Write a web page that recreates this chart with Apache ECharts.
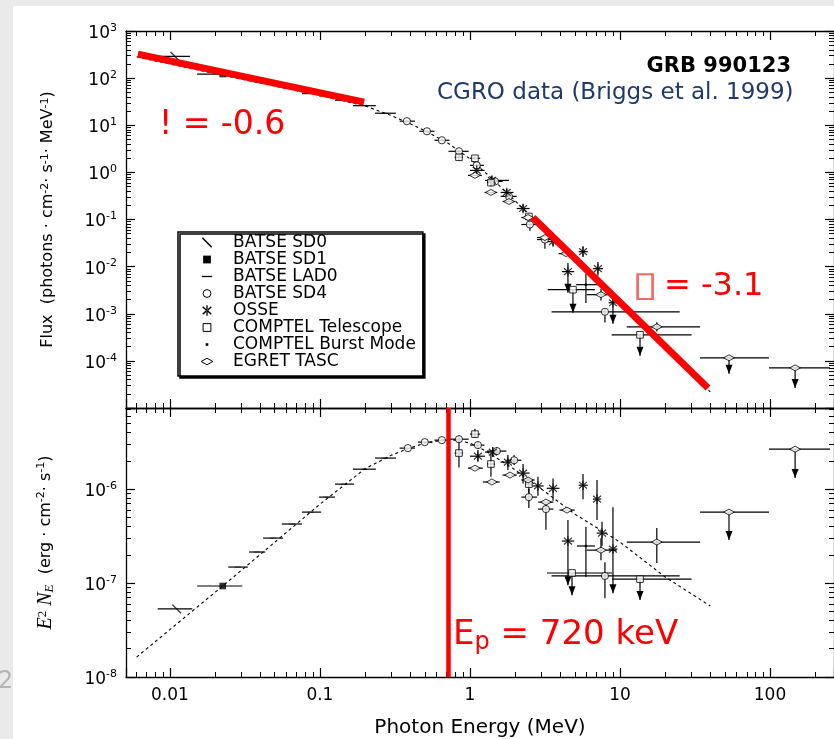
<!DOCTYPE html>
<html><head><meta charset="utf-8">
<script src="https://cdn.jsdelivr.net/npm/echarts@6/dist/echarts.min.js"></script>
<style>html,body{margin:0;padding:0;background:#fff}#c{width:834px;height:739px}</style>
</head><body><div id="c"></div>
<script>
// ---------------- data ----------------
// tuple: [E (MeV), value, Elow, Ehigh, valueLow, valueHigh, upperLimit]
const sd0Top = [[0.0108, 290, 0.0083, 0.0136]];
const sd1Top = [[0.0225, 122, 0.0152, 0.0302]];
const lad0Top = [[0.0284,114,0.0245,0.0331],[0.038,92,0.0337,0.0432],[0.0486,80,0.0418,0.0568],[0.065,63,0.0557,0.0759],[0.087,47,0.0759,0.1019],[0.111,42,0.0987,0.126],[0.145,34,0.126,0.169],[0.197,26,0.166,0.236],[0.271,18,0.233,0.321]];
const sd4Top = [[0.38,12.2,0.34,0.43,11.5,13],[0.517,7.45,0.46,0.58,7.0,7.9],[0.65,4.8,0.58,0.73,4.5,5.1],[0.845,2.8,0.72,0.98,2.6,3.0],[1.11,1.41,1.0,1.24,1.3,1.52],[1.47,0.644,1.3,1.65,0.58,0.71],[1.82,0.309,1.6,2.05,0.27,0.35],[2.51,0.0783,2.2,2.85,0.058,0.095],[3.16,0.0375,2.8,3.6,0.024,0.045],[7.94,0.0011,3.5,25,0.00065,0.0013]];
const osseTop = [[1.11,1.10,1.0,1.25,0.95,1.28],[1.40,0.676,1.26,1.82,0.55,0.85],[1.76,0.375,1.6,1.95,0.31,0.45],[2.26,0.171,2.05,2.5,0.14,0.21],[3.58,0.034,3.25,3.95,0.027,0.044],[5.67,0.0208,5.3,6.1,0.016,0.027],[4.50,0.00783,4.1,4.95,0.0028,0.012,1],[7.13,0.00906,6.6,7.7,0.0064,0.0125],[8.98,0.00171,8.4,9.6,0.00061,0.0024,1]];
const comptelTop = [[0.845,2.09,0.79,0.9,1.75,2.5],[1.08,1.99,1.0,1.17,1.8,2.2],[1.38,0.607,1.3,1.47,0.5,0.72],[2.47,0.116,2.35,2.6,0.1,0.13],[4.86,0.00324,3.3,6.8,0.00105,0.00324,1],[13.6,0.000357,8.8,30,0.000128,0.000357,1]];
const burstTop = [[5.93,0.00414,5.1,7.35,0.0017,0.0071]];
const egretTop = [[1.08,0.863,0.97,1.2],[1.38,0.375,1.25,1.52],[1.82,0.241,1.65,2.0],[2.44,0.110,2.2,2.7],[3.16,0.0414,2.8,3.55],[4.37,0.0189,3.9,4.9],[7.47,0.00254,6.0,9.5,0.0019,0.0034],[17.6,0.000528,11.1,34.2,0.00042,0.00066],[53.3,0.000116,34.2,98.4,5.3e-5,0.000116,1],[147,7.1e-5,98.4,251,2.67e-5,7.1e-5,1]];

const sd0Bot = [[0.0111,5.3e-8,0.0083,0.0141]];
const sd1Bot = [[0.0225,9.3e-8,0.0152,0.0304]];
const lad0Bot = [[0.0284,1.48e-7,0.0245,0.0331],[0.038,2.14e-7,0.0337,0.0432],[0.0486,3.01e-7,0.0418,0.0568],[0.065,4.25e-7,0.0557,0.0759],[0.087,5.69e-7,0.0759,0.1019],[0.111,8.22e-7,0.0987,0.126],[0.145,1.13e-6,0.126,0.169],[0.197,1.63e-6,0.166,0.236],[0.271,2.14e-6,0.233,0.321]];
const sd4Bot = [[0.386,2.73e-6,0.34,0.43],[0.5,3.16e-6,0.45,0.56],[0.65,3.32e-6,0.58,0.73],[0.845,3.40e-6,0.72,0.98,3.1e-6,3.7e-6],[1.13,2.94e-6,1.0,1.25,2.7e-6,3.2e-6],[1.51,2.54e-6,1.3,1.75,2.3e-6,2.8e-6],[1.97,2.03e-6,1.75,2.2,1.8e-6,2.3e-6],[2.47,8.22e-7,2.2,2.8,6.3e-7,1.0e-6],[3.21,6.13e-7,2.85,3.6,3.7e-7,7.1e-7],[7.94,1.19e-7,3.5,25,6.9e-8,1.67e-7]];
const osseBot = [[1.13,2.24e-6,1.0,1.26,1.95e-6,2.6e-6],[1.42,2.48e-6,1.26,1.6,2.2e-6,2.8e-6],[1.79,1.94e-6,1.6,2.0,1.6e-6,2.3e-6],[2.26,1.48e-6,2.05,2.5,1.15e-6,1.85e-6],[2.84,1.08e-6,2.6,3.1,8.5e-7,1.35e-6],[3.58,1.02e-6,3.25,3.95,7.5e-7,1.3e-6],[5.67,1.10e-6,5.3,6.1,7.8e-7,1.45e-6],[7.03,7.83e-7,6.6,7.5,4.7e-7,1.25e-6],[7.59,3.4e-7,7.0,8.2,2.5e-7,4.5e-7],[4.50,2.80e-7,4.1,4.95,9.5e-8,4.7e-7,1],[8.98,2.30e-7,8.4,9.6,7.8e-8,6.4e-7,1]];
const comptelBot = [[1.08,3.85e-6,1.0,1.17,3.5e-6,4.4e-6],[0.845,2.42e-6,0.79,0.9,1.7e-6,3.3e-6],[1.38,1.85e-6,1.3,1.47,1.35e-6,2.4e-6],[2.47,1.13e-6,2.35,2.6,9e-7,1.3e-6],[4.79,1.28e-7,3.26,8.85,7.4e-8,1.28e-7,1],[13.6,1.10e-7,8.85,30,6.6e-8,1.10e-7,1]];
const burstBot = [[5.93,2.48e-7,5.17,6.81,1.16e-7,3.94e-7]];
const egretBot = [[1.08,1.67e-6,0.97,1.22],[1.40,1.19e-6,1.22,1.58],[1.85,1.41e-6,1.65,2.05],[2.44,1.25e-6,2.2,2.7],[3.21,7.27e-7,2.85,3.6],[4.43,5.98e-7,3.95,5.0],[7.47,2.24e-7,6.0,9.5,1.75e-7,3.0e-7],[17.6,2.73e-7,11.1,34.2,1.63e-7,3.85e-7],[53.3,5.69e-7,34.2,98.4,2.87e-7,5.69e-7,1],[147,2.66e-6,98.4,251,1.31e-6,2.66e-6,1]];

// dashed model curve
const modelE   = [0.006, 0.0225, 0.1, 0.2, 0.3, 0.4, 0.5, 0.72, 1, 1.3, 2, 3, 5, 10, 20, 40];
const modelTop = [283, 115, 43, 25.7, 16, 10.7, 7.7, 4.1, 1.94, 0.923, 0.25, 0.069, 0.0135, 0.0017, 1.8e-4, 2.2e-5];
const modelBot = [1.63e-8, 9.3e-8, 6.9e-7, 1.65e-6, 2.3e-6, 2.75e-6, 3.08e-6, 3.4e-6, 3.1e-6, 2.5e-6, 1.6e-6, 1.0e-6, 5.42e-7, 2.73e-7, 1.16e-7, 5.7e-8];

// red annotation lines
const slopeLowE = [0.00612, 0.197];
const slopeLowF = [324, 30.9];
const slopeHighE = [2.63, 38.6];
const slopeHighF = [0.110, 2.67e-5];
const epPeak = 0.72;

// axes
const xRange = [0.0051, 267];
const topYRange = [1e-5, 1e3];
const botYRange = [1e-8, 7.3e-6];
const xTickExp = [-2, -1, 0, 1, 2];
const xTickText = ['0.01', '0.1', '1', '10', '100'];
const legendNames = ['BATSE SD0','BATSE SD1','BATSE LAD0','BATSE SD4','OSSE','COMPTEL Telescope','COMPTEL Burst Mode','EGRET TASC'];

// ---------------- chart ----------------
const FF = '"DejaVu Sans", sans-serif';
const SERIF = '"Liberation Serif", "DejaVu Serif", serif';
const SYM = {
  sd0: 'path://M0,0M10,10M1,1.8L1.8,1L9,8.2L8.2,9Z',
  sq: 'path://M0,0M10,10M2,2H8V8H2Z',
  dash: 'path://M0,0M10,10M1,4.5H9V5.5H1Z',
  circ: 'path://M0,0M10,10M8,5A3,3,0,1,1,2,5A3,3,0,1,1,8,5Z',
  star: 'path://M0,0M10,10M4.5,1H5.5V9H4.5Z M1.4,2.6L2,1.8L8.6,7.4L8,8.2Z M1.4,7.4L2,8.2L8.6,2.6L8,1.8Z',
  dot: 'path://M0,0M10,10M4,4H6V6H4Z',
  dia: 'path://M0,0M10,10M0.5,5L5,2.5L9.5,5L5,7.5Z'
};
const OPEN = {color:'#fff', borderColor:'#000', borderWidth:1};
const FILL = {color:'#000', borderWidth:0};
const instruments = [
  {name:legendNames[0], sym:SYM.sd0, size:12, style:FILL, top:sd0Top, bot:sd0Bot},
  {name:legendNames[1], sym:SYM.sq, size:11, style:FILL, top:sd1Top, bot:sd1Bot},
  {name:legendNames[2], sym:SYM.dash, size:8, style:FILL, top:lad0Top, bot:lad0Bot},
  {name:legendNames[3], sym:SYM.circ, size:12, style:OPEN, top:sd4Top, bot:sd4Bot},
  {name:legendNames[4], sym:SYM.star, size:12, style:FILL, top:osseTop, bot:osseBot},
  {name:legendNames[5], sym:SYM.sq, size:11, style:OPEN, top:comptelTop, bot:comptelBot},
  {name:legendNames[6], sym:SYM.dot, size:12, style:FILL, top:burstTop, bot:burstBot},
  {name:legendNames[7], sym:SYM.dia, size:12, style:OPEN, top:egretTop, bot:egretBot}
];
function full(d) {
  return [d[0], d[1], d[2], d[3], d[4] != null ? d[4] : d[1], d[5] != null ? d[5] : d[1], d[6] ? 1 : 0];
}
function errRender(params, api) {
  const x = api.value(0), y = api.value(1);
  const c = api.coord([x, y]);
  const l = api.coord([api.value(2), y]);
  const r = api.coord([api.value(3), y]);
  const lo = api.coord([x, api.value(4)]);
  const hi = api.coord([x, api.value(5)]);
  const st = {stroke:'#000', lineWidth:1.2};
  const ch = [
    {type:'line', shape:{x1:l[0], y1:c[1], x2:r[0], y2:c[1]}, style:st},
    {type:'line', shape:{x1:c[0], y1:hi[1], x2:c[0], y2:lo[1]}, style:st}
  ];
  if (api.value(6)) {
    ch.push({type:'polygon', shape:{points:[[c[0]-3.5, lo[1]-9], [c[0]+3.5, lo[1]-9], [c[0], lo[1]]]}, style:{fill:'#000'}});
  }
  return {type:'group', children:ch};
}
function expLabel(v) {
  const e = Math.log10(v), r = Math.round(e);
  if (Math.abs(e - r) > 0.02) return '';
  return '{b|10}{e|' + r + '}';
}
function xLabel(v) {
  const e = Math.log10(v), r = Math.round(e);
  if (Math.abs(e - r) > 0.02) return '';
  const i = xTickExp.indexOf(r);
  return i >= 0 ? xTickText[i] : '';
}
const AX_LINE = {show:true, onZero:false, lineStyle:{color:'#000', width:1.3}};
const TICK = {show:true, inside:true, length:9, lineStyle:{color:'#000', width:1.2}};
const MINOR = {show:true, splitNumber:9, length:5, lineStyle:{color:'#000', width:1}};
const LABEL_RICH = {
  b:{fontFamily:FF, fontSize:17, lineHeight:17, padding:[5,0,0,0], color:'#000'},
  e:{fontFamily:FF, fontSize:11, lineHeight:11, verticalAlign:'top', color:'#000'}
};
function xAxis(grid, pos, withLabel) {
  const a = {type:'log', logBase:10, gridIndex:grid, position:pos, min:xRange[0], max:xRange[1],
    axisLine:AX_LINE, axisTick:TICK, minorTick:MINOR, splitLine:{show:false},
    axisLabel:{show:withLabel, formatter:xLabel, fontFamily:FF, fontSize:17, color:'#000', margin:10}};
  if (withLabel) {
    Object.assign(a, {name:'Photon Energy (MeV)', nameLocation:'middle', nameGap:41, nameMoveOverlap:false,
      nameTextStyle:{fontFamily:FF, fontSize:20, color:'#000'}});
  }
  return a;
}
function yAxis(grid, pos, range, withLabel, name, nameRich, showMin) {
  const a = {type:'log', logBase:10, gridIndex:grid, position:pos, min:range[0], max:range[1],
    axisLine:AX_LINE, axisTick:TICK, minorTick:MINOR, splitLine:{show:false},
    axisLabel:{show:withLabel, formatter:expLabel, rich:LABEL_RICH, margin:9, showMinLabel:showMin}};
  if (name) {
    Object.assign(a, {name:name, nameLocation:'middle', nameGap:70, nameMoveOverlap:false,
      nameTextStyle:{rich:nameRich}});
  }
  return a;
}
const nRich = {
  n:{fontFamily:FF, fontSize:16, lineHeight:16, padding:[5,0,5,0], color:'#000'},
  s:{fontFamily:FF, fontSize:11, lineHeight:11, verticalAlign:'top', color:'#000'},
  i:{fontFamily:SERIF, fontStyle:'italic', fontSize:20, lineHeight:20, padding:[4,0,4,0], color:'#000'},
  s2:{fontFamily:SERIF, fontSize:13, lineHeight:13, verticalAlign:'top', color:'#000'},
  u:{fontFamily:SERIF, fontStyle:'italic', fontSize:13, lineHeight:13, verticalAlign:'bottom', color:'#000'}
};

const series = [];
function addPanel(xi, yi, key, model) {
  series.push({type:'line', xAxisIndex:xi, yAxisIndex:yi, silent:true, z:1, symbol:'none',
    data:modelE.map((e, i) => [e, model[i]]), lineStyle:{color:'#000', width:1.1, type:[3,3]}});
  instruments.forEach(ins => {
    const arr = ins[key].map(full);
    series.push({type:'custom', name:ins.name, xAxisIndex:xi, yAxisIndex:yi, silent:true, z:2, clip:true,
      renderItem:errRender, encode:{x:0, y:1}, data:arr});
    series.push({type:'scatter', name:ins.name, xAxisIndex:xi, yAxisIndex:yi, silent:true, z:3,
      symbol:ins.sym, symbolSize:ins.size, itemStyle:ins.style, data:arr.map(d => [d[0], d[1]])});
  });
}
addPanel(0, 0, 'top', modelTop);
addPanel(2, 2, 'bot', modelBot);
series.push({type:'line', xAxisIndex:0, yAxisIndex:0, silent:true, z:10, symbol:'none',
  data:slopeLowE.map((e, i) => [e, slopeLowF[i]]), lineStyle:{color:'#ff0000', width:7, cap:'butt'}});
series.push({type:'line', xAxisIndex:0, yAxisIndex:0, silent:true, z:10, symbol:'none',
  data:slopeHighE.map((e, i) => [e, slopeHighF[i]]), lineStyle:{color:'#ff0000', width:7, cap:'butt'}});
series.push({type:'line', xAxisIndex:2, yAxisIndex:2, silent:true, z:10, symbol:'none', data:[],
  markLine:{symbol:['none','none'], silent:true, animation:false, label:{show:false},
    lineStyle:{color:'#ff0000', width:4.5, type:'solid'}, data:[{xAxis:epPeak}]}});

const legendData = instruments.map(ins => ({name:ins.name, icon:ins.sym, itemStyle:ins.style}));

const chart = echarts.init(document.getElementById('c'), null, {renderer:'canvas'});
chart.setOption({
  animation:false,
  backgroundColor:'#ffffff',
  grid:[
    {left:126, top:31, right:0, height:377, containLabel:false, outerBoundsMode:'none'},
    {left:126, top:408, right:0, height:269, containLabel:false, outerBoundsMode:'none'}
  ],
  xAxis:[xAxis(0,'bottom',false), xAxis(0,'top',false), xAxis(1,'bottom',true), xAxis(1,'top',false)],
  yAxis:[
    yAxis(0,'left',topYRange,true,'{n|Flux  (photons · cm}{s|-2}{n|· s}{s|-1}{n|· MeV}{s|-1}{n|)}', nRich, false),
    yAxis(0,'right',topYRange,false),
    yAxis(1,'left',botYRange,true,'{i|E}{s2|2}{i| N}{u|E}{n|  (erg · cm}{s|-2}{n|· s}{s|-1}{n|)}', nRich, true),
    yAxis(1,'right',botYRange,false)
  ],
  legend:{
    orient:'vertical', left:178, top:232, selectedMode:false,
    backgroundColor:'#fff', borderColor:'#000', borderWidth:1.5, borderRadius:0,
    shadowColor:'#000', shadowOffsetX:2, shadowOffsetY:2, shadowBlur:0,
    padding:[2,7,6,22], itemGap:0, itemWidth:42, itemHeight:13,
    textStyle:{fontFamily:FF, fontSize:17, color:'#000'},
    data:legendData
  },
  graphic:[
    {type:'rect', shape:{x:0, y:0, width:834, height:6}, style:{fill:'#eaeaea'}, z:100},
    {type:'rect', shape:{x:0, y:0, width:13, height:739}, style:{fill:'#eaeaea'}, z:100},
    {type:'text', x:-2, y:682, z:101, style:{text:'2', font:'24px ' + FF, fill:'#b4b4b4', verticalAlign:'middle'}},
    {type:'text', x:791, y:67, z:100, style:{text:'GRB 990123', font:'bold 21px ' + FF, fill:'#000', align:'right', verticalAlign:'middle'}},
    {type:'text', x:437, y:93, z:100, style:{text:'CGRO data (Briggs et al. 1999)', font:'23px ' + FF, fill:'#1f3a68', verticalAlign:'middle'}},
    {type:'text', x:159, y:125, z:100, style:{text:'! = -0.6', font:'33px ' + FF, fill:'#ff0000', verticalAlign:'middle'}},
    {type:'text', x:632, y:287, z:100, scaleX:1.5, scaleY:1.1, originX:0, originY:0,
      style:{text:'▯', font:'32px ' + FF, fill:'#f26a6a', verticalAlign:'middle'}},
    {type:'text', x:664, y:287, z:100, style:{text:'= -3.1', font:'32px ' + FF, fill:'#ff0000', verticalAlign:'middle'}},
    {type:'text', x:453, y:638, z:100, style:{text:'{E|E}{p|p}{t| = 720 keV}', verticalAlign:'middle', fill:'#ff0000',
      rich:{E:{fontFamily:FF, fontSize:34, lineHeight:34, padding:[0,0,6,0], fill:'#ff0000'},
            p:{fontFamily:FF, fontSize:24, lineHeight:24, verticalAlign:'bottom', fill:'#ff0000'},
            t:{fontFamily:FF, fontSize:34, lineHeight:34, padding:[0,0,6,0], fill:'#ff0000'}}}}
  ],
  series:series
});
</script></body></html>
